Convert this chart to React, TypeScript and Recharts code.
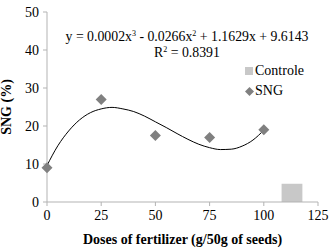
import React from "react";
import {
  ComposedChart,
  Line,
  Scatter,
  XAxis,
  YAxis,
  ReferenceArea,
} from "recharts";

// SNG germination readings per fertilizer dose
const doses = [0, 25, 50, 75, 100];
const sng = [9, 27, 17.5, 17, 19];

// control sample, drawn as one bar beyond the dose range (start/end on the dose axis)
const controlFrom = 108.2;
const controlTo = 117.8;
const controlValue = 4.8;

// fitted cubic trendline, every 5 units
const trendX = [0, 5, 10, 15, 20, 25, 30, 35, 40, 45, 50, 55, 60, 65, 70, 75, 80, 85, 90, 95, 100];
const trendY = [9.6, 14.8, 18.7, 21.6, 23.5, 24.5, 24.9, 24.5, 23.8, 22.6, 21.1, 19.6, 18.0, 16.5, 15.2, 14.3, 13.8, 13.9, 14.7, 16.3, 18.9];

const xTicks = [0, 25, 50, 75, 100, 125];
const yTicks = [0, 10, 20, 30, 40, 50];

const AXIS = "#b3b3b3";
const POINT = "#808080";
const BAR = "#c8c8c8";
const FONT = "'Liberation Serif', 'Times New Roman', serif";

const sngRows = doses.map((x, i) => ({ x, sng: sng[i] }));
const trendRows = trendX.map((x, i) => ({ x, trend: trendY[i] }));

function XTick(props: { x?: number; y?: number; payload?: { value: number } }) {
  const { x, y, payload } = props;
  if (x == null || y == null || !payload) return null;
  return (
    <text x={x} y={y + 12} textAnchor="middle" fontFamily={FONT} fontSize={14} fill="#000">
      {payload.value}
    </text>
  );
}

function YTick(props: { x?: number; y?: number; payload?: { value: number } }) {
  const { x, y, payload } = props;
  if (x == null || y == null || !payload) return null;
  return (
    <text x={x - 2} y={y + 5} textAnchor="end" fontFamily={FONT} fontSize={14} fill="#000">
      {payload.value}
    </text>
  );
}

function Diamond(props: { cx?: number; cy?: number }) {
  const { cx, cy } = props;
  if (cx == null || cy == null) return null;
  const r = 5.5;
  return (
    <polygon
      points={`${cx},${cy - r} ${cx + r},${cy} ${cx},${cy + r} ${cx - r},${cy}`}
      fill={POINT}
    />
  );
}

const sup = { fontSize: 8, verticalAlign: "5px", lineHeight: 0 } as const;

export default function App() {
  return (
    <div
      style={{
        position: "absolute",
        left: 0,
        top: 0,
        width: 331,
        height: 248,
        background: "#fff",
        fontFamily: FONT,
      }}
    >
      <ComposedChart
        width={331}
        height={248}
        data={trendRows}
        margin={{ top: 12, right: 13, bottom: 0, left: 0 }}
      >
        <XAxis
          dataKey="x"
          type="number"
          domain={[0, 125]}
          ticks={xTicks}
          interval={0}
          tick={<XTick />}
          tickLine={{ stroke: AXIS }}
          tickSize={4}
          axisLine={{ stroke: AXIS }}
          height={46}
          label={{
            value: "Doses of fertilizer (g/50g of seeds)",
            position: "insideBottom",
            offset: 4,
            fill: "#000",
            fontSize: 14,
            fontWeight: 700,
            fontFamily: FONT,
          }}
        />
        <YAxis
          type="number"
          domain={[0, 50]}
          ticks={yTicks}
          interval={0}
          tick={<YTick />}
          tickLine={{ stroke: AXIS }}
          tickSize={4}
          axisLine={{ stroke: AXIS }}
          width={47}
          label={{
            value: "SNG (%)",
            angle: -90,
            position: "insideLeft",
            offset: 6,
            fill: "#000",
            fontSize: 14,
            fontWeight: 700,
            fontFamily: FONT,
            style: { textAnchor: "middle" },
          }}
        />
        <ReferenceArea
          x1={controlFrom}
          x2={controlTo}
          y1={0}
          y2={controlValue}
          fill={BAR}
          fillOpacity={1}
          stroke="none"
        />
        <Line
          dataKey="trend"
          type="monotone"
          stroke="#000"
          strokeWidth={1}
          dot={false}
          activeDot={false}
          isAnimationActive={false}
        />
        <Scatter
          data={sngRows}
          dataKey="sng"
          fill={POINT}
          shape={<Diamond />}
          isAnimationActive={false}
        />
      </ComposedChart>

      <div
        style={{
          position: "absolute",
          left: 245,
          top: 61,
          fontSize: 14,
          color: "#000",
          lineHeight: "20px",
        }}
      >
        <div style={{ display: "flex", alignItems: "center" }}>
          <span style={{ width: 8, height: 8, background: BAR, marginRight: 2 }} />
          Controle
        </div>
        <div style={{ display: "flex", alignItems: "center" }}>
          <svg width={9} height={9} style={{ marginRight: 1 }}>
            <polygon points="4.5,0 9,4.5 4.5,9 0,4.5" fill={POINT} />
          </svg>
          SNG
        </div>
      </div>

      <div
        style={{
          position: "absolute",
          left: 47,
          width: 280,
          top: 29,
          textAlign: "center",
          fontSize: 13.8,
          lineHeight: "16px",
          color: "#000",
        }}
      >
        <div>
          y = 0.0002x<sup style={sup}>3</sup> - 0.0266x<sup style={sup}>2</sup> + 1.1629x + 9.6143
        </div>
        <div>
          R<sup style={sup}>2</sup> = 0.8391
        </div>
      </div>
    </div>
  );
}
